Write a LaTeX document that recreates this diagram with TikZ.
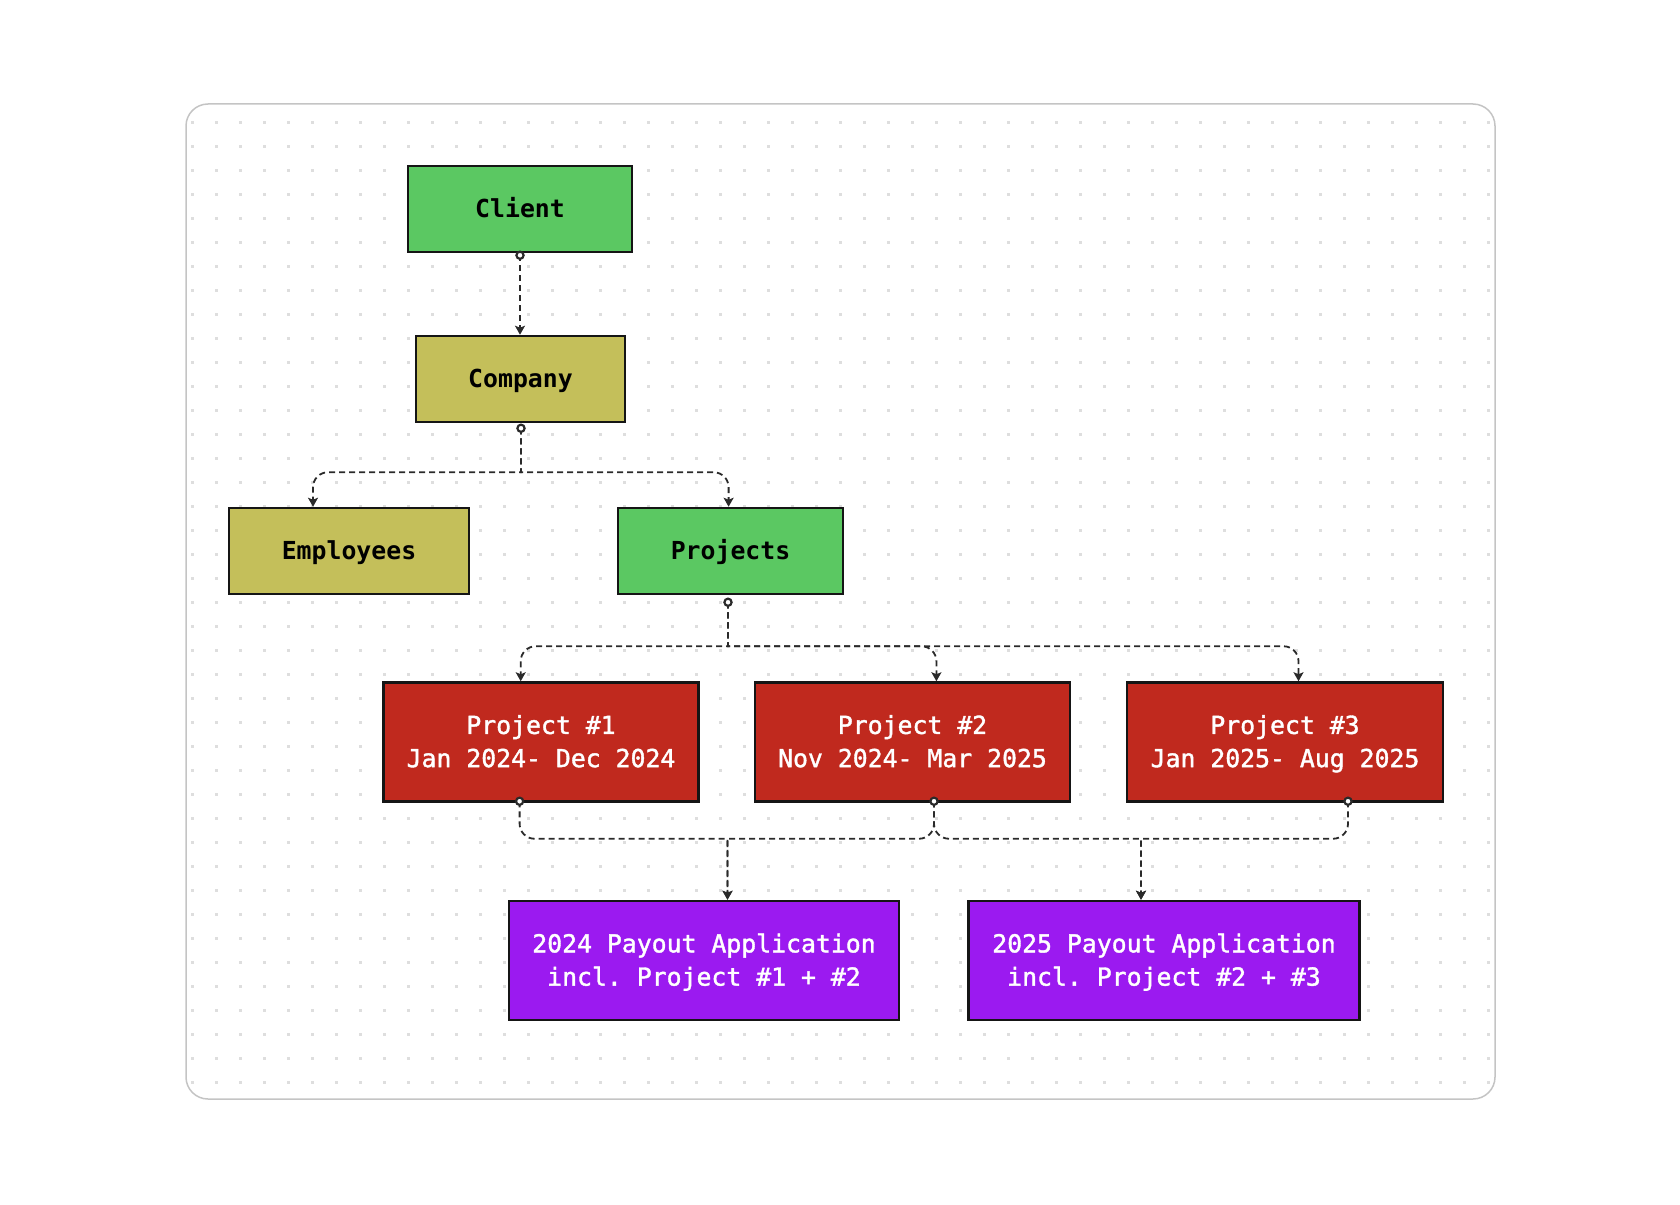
\documentclass[tikz,border=0pt]{standalone}
\usepackage{fontspec}
\setmonofont{DejaVu Sans Mono}
\newfontfamily\medmono{DejaVu Sans Mono}[FakeBold=1.5]
\usetikzlibrary{arrows.meta,calc}
\definecolor{gfill}{HTML}{5BC862}
\definecolor{ofill}{HTML}{C4BF5A}
\definecolor{rfill}{HTML}{C0291E}
\definecolor{pfill}{HTML}{9B1AF0}
\definecolor{framec}{HTML}{C4C4C4}
\definecolor{dotc}{HTML}{DEDEDE}
\definecolor{linec}{HTML}{2A2A2A}
\definecolor{borderc}{HTML}{151515}
\newcommand\mystrut{\rule[-3pt]{0pt}{14.5pt}}
\tikzset{
  box/.style={draw=borderc, line width=1.25pt, inner sep=0pt, align=center},
  darkbox/.style={box, text=black, font=\ttfamily\bfseries\fontsize{12.4}{16.6}\selectfont\frenchspacing},
  lightbox/.style={box, text=white, font=\medmono\fontsize{12.4}{16.6}\selectfont\frenchspacing},
  conn/.style={draw=linec, line width=0.9pt, dash pattern=on 3pt off 2pt,
    -{Stealth[length=4.5pt,width=5pt,inset=1pt]}},
  ring/.style={draw=linec, fill=white, line width=1.1pt},
}
\begin{document}
\begin{tikzpicture}[x=0.5pt,y=-0.5pt]
\useasboundingbox (0,0) rectangle (1680,1204);
% frame and dot grid
\begin{scope}
  \clip[rounded corners=11pt] (186,104) rectangle (1495,1099);
  \foreach \i in {0,...,54} {
    \foreach \j in {0,...,40} {
      \fill[dotc] ({190.8+24*\i},{120.8+24*\j}) rectangle ++(3,3);
    }
  }
\end{scope}
\draw[framec, line width=0.75pt, rounded corners=11pt] (186,104) rectangle (1495,1099);

% nodes
\node[darkbox, fill=gfill, minimum width=112pt, minimum height=43pt] (client) at (520,209) {\mystrut Client};
\node[darkbox, fill=ofill, minimum width=104.5pt, minimum height=43pt] (company) at (520.5,379) {\mystrut Company};
\node[darkbox, fill=ofill, minimum width=120pt, minimum height=43pt] (employees) at (349,551) {\mystrut Employees};
\node[darkbox, fill=gfill, minimum width=112.5pt, minimum height=43pt] (projects) at (730.5,551) {\mystrut Projects};
\node[lightbox, fill=rfill, minimum width=157.5pt, minimum height=59.5pt] (project1) at (541,742) {\mystrut Project \#1\\\mystrut Jan 2024- Dec 2024};
\node[lightbox, fill=rfill, minimum width=157.5pt, minimum height=59.5pt] (project2) at (912.5,742) {\mystrut Project \#2\\\mystrut Nov 2024- Mar 2025};
\node[lightbox, fill=rfill, minimum width=158pt, minimum height=59.5pt] (project3) at (1285,742) {\mystrut Project \#3\\\mystrut Jan 2025- Aug 2025};
\node[lightbox, fill=pfill, minimum width=195pt, minimum height=59.5pt] (pay24) at (704,960.5) {\mystrut 2024 Payout Application\\\mystrut incl. Project \#1 + \#2};
\node[lightbox, fill=pfill, minimum width=195.5pt, minimum height=59.5pt] (pay25) at (1164,960.5) {\mystrut 2025 Payout Application\\\mystrut incl. Project \#2 + \#3};

% connector start points and junctions
\coordinate (cClient) at ($(client.south)+(0,2)$);
\coordinate (cCompany) at ($(company.south)+(0.5,5)$);
\coordinate (cProjects) at ($(projects.south)+(-2.5,7)$);
\coordinate (cP1) at ($(project1.south)+(-21.4,-1.5)$);
\coordinate (cP2) at ($(project2.south)+(21.5,-1.5)$);
\coordinate (cP3) at ($(project3.south)+(63,-1.5)$);
\coordinate (jCompany) at ($(cCompany)+(0,44)$);
\coordinate (jProjects) at ($(cProjects)+(0,44)$);
\coordinate (j24) at ($(pay24.north -| 727.5,0)+(0,-61)$);
\coordinate (j25) at ($(pay25.north -| 1141,0)+(0,-61)$);

% connectors
\draw[conn] (cClient) -- (cClient |- company.north);
\draw[conn] (cCompany) -- (jCompany) [rounded corners=7.5pt] -| (employees.north -| 313,0);
\draw[conn] (cCompany) -- (jCompany) [rounded corners=7.5pt] -| (projects.north -| 728.6,0);
\draw[conn] (cProjects) -- (jProjects) [rounded corners=7.5pt] -| (project1.north -| 520.7,0);
\draw[conn] (cProjects) -- (jProjects) [rounded corners=7.5pt] -| (project2.north -| 936.4,0);
\draw[conn] (cProjects) -- (jProjects) [rounded corners=7.5pt] -| (project3.north -| 1298.5,0);
\draw[conn] (cP1) [rounded corners=7.5pt] -- (cP1 |- j24) [sharp corners] -- (j24) -- (j24 |- pay24.north);
\draw[conn] (cP2) [rounded corners=7.5pt] -- (cP2 |- j24) [sharp corners] -- (j24) -- (j24 |- pay24.north);
\draw[conn] (cP2) [rounded corners=7.5pt] -- (cP2 |- j25) [sharp corners] -- (j25) -- (j25 |- pay25.north);
\draw[conn] (cP3) [rounded corners=7.5pt] -- (cP3 |- j25) [sharp corners] -- (j25) -- (j25 |- pay25.north);

% start markers
\foreach \c in {cClient,cCompany,cProjects,cP1,cP2,cP3}
  \draw[ring] (\c) circle[radius=1.8pt];
\end{tikzpicture}
\end{document}
